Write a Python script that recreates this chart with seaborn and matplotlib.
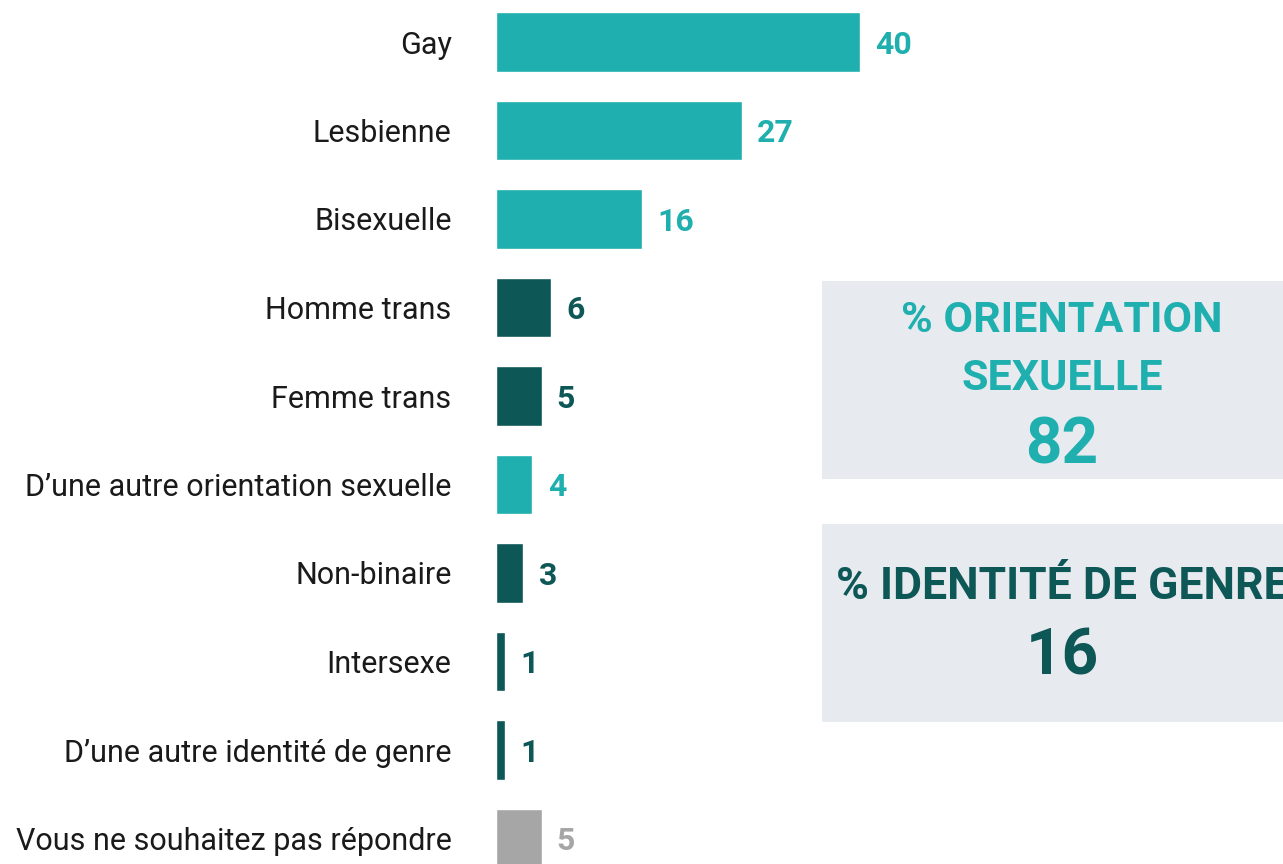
import matplotlib
matplotlib.use("Agg")
import matplotlib.pyplot as plt
import seaborn as sns
import pandas as pd
from matplotlib.patches import Rectangle

categories = ["Gay", "Lesbienne", "Bisexuelle", "Homme trans", "Femme trans",
              "D\u2019une autre orientation sexuelle", "Non-binaire", "Intersexe",
              "D\u2019une autre identit\u00e9 de genre", "Vous ne souhaitez pas r\u00e9pondre"]
values = [40, 27, 16, 6, 5, 4, 3, 1, 1, 5]
groups = ["orientation", "orientation", "orientation", "genre", "genre",
          "orientation", "genre", "genre", "genre", "nsp"]

summary_titles = ["% ORIENTATION\nSEXUELLE", "% IDENTIT\u00c9 DE GENRE"]
summary_values = [82, 16]
summary_groups = ["orientation", "genre"]

colors = {"orientation": "#1EAFAE", "genre": "#0D5757", "nsp": "#A6A6A6"}
box_color = "#E7EAEF"

df = pd.DataFrame({"label": categories, "value": values, "group": groups})

sns.set_theme(style="white")
plt.rcParams["font.family"] = ["Roboto", "DejaVu Sans"]

W, H = 1283, 864
fig = plt.figure(figsize=(W / 100, H / 100), dpi=100)

boxes = [(281, 479), (524, 722)]
for top, bot in boxes:
    fig.add_artist(Rectangle((822 / W, 1 - bot / H), 1 - 822 / W, (bot - top) / H,
                             transform=fig.transFigure, facecolor=box_color,
                             edgecolor="none", zorder=0))

ax = fig.add_axes([496 / W, 0, 1 - 496 / W, 1])
ax.patch.set_alpha(0)

sns.barplot(data=df, x="value", y="label", hue="group", palette=colors,
            dodge=False, legend=False, width=0.67, ax=ax, saturation=1,
            order=categories)

ax.set_xlim(0, (W - 496) / 9.1)
ax.set_ylim((H - 42) / 88.5, -42 / 88.5)
ax.set_xlabel("")
ax.set_ylabel("")
ax.set_xticks([])
for s in ax.spines.values():
    s.set_visible(False)
ax.tick_params(axis="y", length=0, pad=32, labelsize=22, labelcolor="#1a1a1a")

for i, (v, g) in enumerate(zip(values, groups)):
    ax.annotate(str(v), xy=(v, i), xytext=(11, -2), textcoords="offset points",
                ha="left", va="center", fontsize=23, fontweight="bold",
                color=colors[g])

fig.text(1062 / W, 1 - 321 / H, "% ORIENTATION", ha="center", va="center",
         fontsize=31, fontweight="bold", color=colors["orientation"], zorder=3)
fig.text(1062 / W, 1 - 378 / H, "SEXUELLE", ha="center", va="center",
         fontsize=31, fontweight="bold", color=colors["orientation"], zorder=3)
fig.text(1062 / W, 1 - 446 / H, str(summary_values[0]), ha="center", va="center",
         fontsize=46, fontweight="bold", color=colors["orientation"], zorder=3)
fig.text(1062 / W, 1 - 587 / H, summary_titles[1], ha="center", va="center",
         fontsize=32, fontweight="bold", color=colors["genre"], zorder=3)
fig.text(1062 / W, 1 - 657 / H, str(summary_values[1]), ha="center", va="center",
         fontsize=46, fontweight="bold", color=colors["genre"], zorder=3)

fig.savefig("out.png", dpi=100, facecolor="white")
